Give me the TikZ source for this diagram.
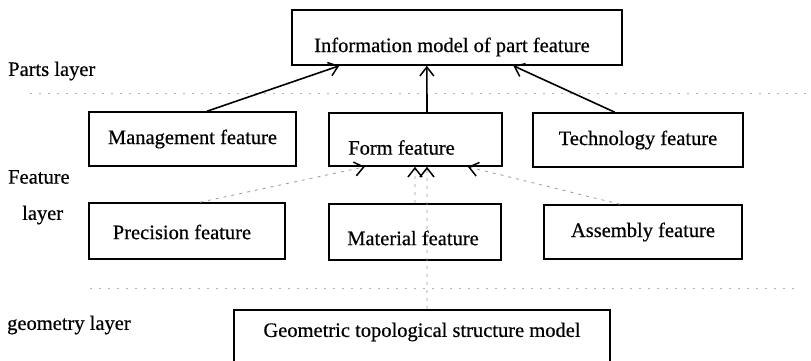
\documentclass[tikz,border=0pt]{standalone}
\usepackage{fontspec}
\setmainfont[UprightFeatures={FakeBold=0.5}]{Liberation Serif}
\usetikzlibrary{arrows.meta,calc}
\newcommand\offtxt[3]{\raisebox{#2}[\height][\depth]{\hspace*{#1}#3\hspace*{-#1}}}
\tikzset{
  box/.style={draw, line width=1.6pt, inner sep=0pt, font=\fontsize{20.5}{24}\selectfont},
  lay/.style={font=\fontsize{20.5}{24}\selectfont, anchor=west, inner sep=0pt},
  sepline/.style={draw=gray!60, line width=0.7pt, dash pattern=on 2pt off 7pt},
  solidarr/.style={line width=1.6pt, -{Straight Barb[length=9pt,width=14pt,line width=1.5pt]}},
  dasharr/.style={draw=gray!80, line width=0.8pt, dash pattern=on 3pt off 5pt, -{Straight Barb[length=9pt,width=14pt,line width=1.5pt,color=black]}}
}
\begin{document}
\begin{tikzpicture}[x=1pt,y=-1pt]
\useasboundingbox (0,0) rectangle (811,360);
\clip (0,0) rectangle (811,360);
% layer labels
\node[lay] (lparts) at (8,71) {Parts layer};
\node[lay] (lfeat1) at (8,177) {Feature};
\node[lay] (lfeat2) at (22,215) {layer};
\node[lay] (lgeo) at (7,325) {geometry layer};
% separators
\coordinate (s1a) at (30,93);
\coordinate (s1b) at (808,93);
\coordinate (s2a) at (90,288);
\coordinate (s2b) at (800,288);
\draw[sepline] (s1a) -- (s1b);
\draw[sepline] (s2a) -- (s2b);
% boxes
\node[box, minimum width=330pt, minimum height=55pt] (info) at (457,37.5) {\offtxt{-5pt}{-9.5pt}{Information model of part feature}};
\node[box, minimum width=207pt, minimum height=54pt] (mgmt) at (192.5,139) {Management feature};
\node[box, minimum width=173pt, minimum height=53pt] (form) at (415.5,139.5) {\offtxt{-14pt}{-8pt}{Form feature}};
\node[box, minimum width=210pt, minimum height=54pt] (tech) at (638,140) {Technology feature};
\node[box, minimum width=196pt, minimum height=56pt] (prec) at (187,231) {\offtxt{-5pt}{-1pt}{Precision feature}};
\node[box, minimum width=172pt, minimum height=56pt] (mat) at (415,232) {\offtxt{-2pt}{-6pt}{Material feature}};
\node[box, minimum width=198pt, minimum height=54pt] (asm) at (643,232) {Assembly feature};
\node[box, minimum width=376pt, minimum height=62pt] (geo) at (422,341) {\offtxt{0pt}{9pt}{Geometric topological structure model}};
% solid arrows
\draw[solidarr] ($(mgmt.north west)!0.57!(mgmt.north east)$) -- ($(info.south west)!0.145!(info.south east)$);
\draw[solidarr] ($(form.north west)!0.566!(form.north east)$) -- ($(info.south west)!0.409!(info.south east)$);
\draw[solidarr] ($(tech.north west)!0.39!(tech.north east)$) -- ($(info.south west)!0.67!(info.south east)$);
% dashed arrows
\draw[dasharr] ($(prec.north west)!0.566!(prec.north east)$) -- ($(form.south west)!0.21!(form.south east)$);
\draw[dasharr] ($(mat.north west)!0.5!(mat.north east)$) -- ($(form.south west)!0.497!(form.south east)$);
\draw[dasharr] ($(geo.north west)!0.513!(geo.north east)$) -- ($(form.south west)!0.566!(form.south east)$);
\draw[dasharr] ($(asm.north west)!0.384!(asm.north east)$) -- ($(form.south west)!0.80!(form.south east)$);
\end{tikzpicture}
\end{document}
